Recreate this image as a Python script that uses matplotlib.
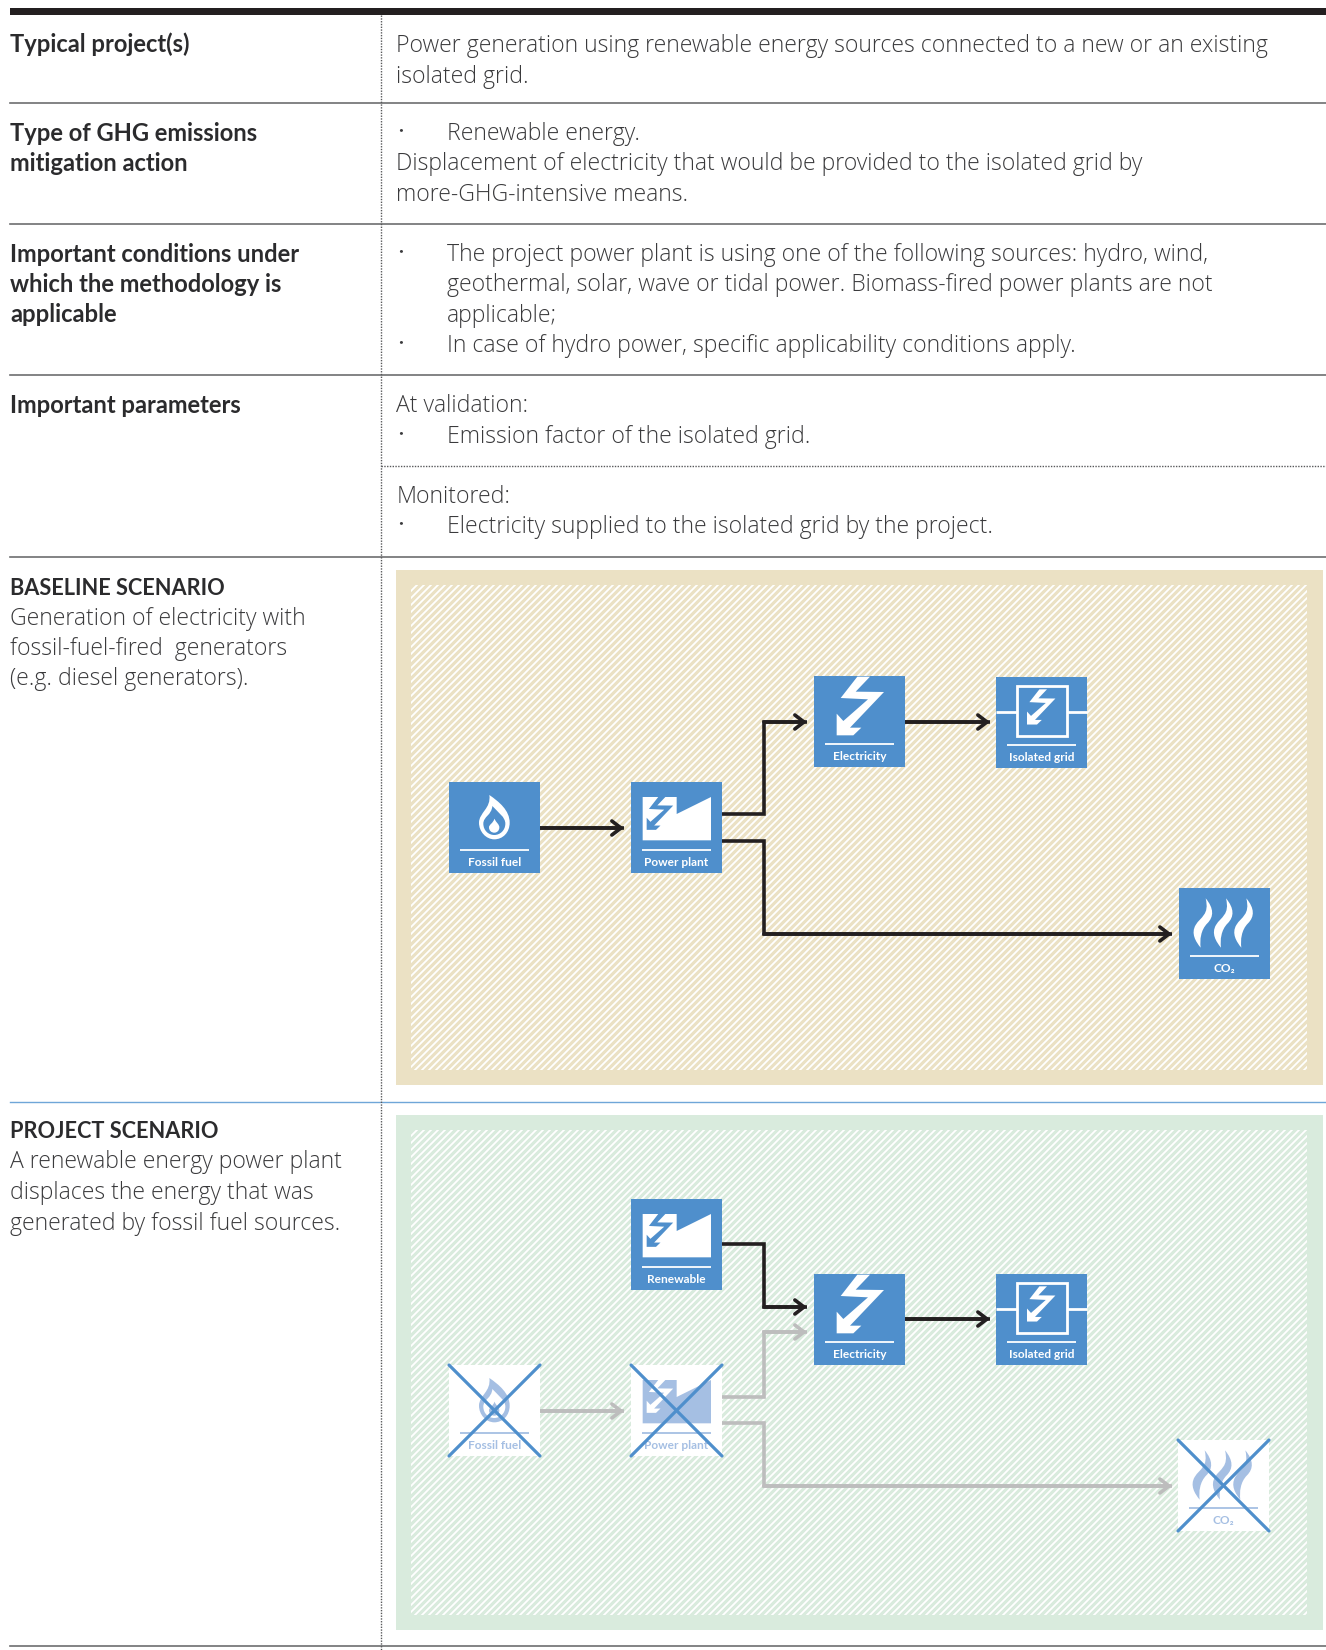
import numpy as np
import matplotlib
matplotlib.use('Agg')
import matplotlib.pyplot as plt
from matplotlib.collections import LineCollection
from matplotlib.patches import PathPatch, Polygon, Rectangle
from matplotlib.path import Path

plt.rcParams['font.family'] = ['Lato', 'DejaVu Sans']

# table text: (baseline y, text)
left_heads = [(52, "Typical project(s)"), (141, "Type of GHG emissions"), (171, "mitigation action"),
              (262, "Important conditions under"), (292, "which the methodology is"), (322, "applicable"),
              (413, "Important parameters")]
scenario_heads = [(595, "BASELINE SCENARIO"), (1138, "PROJECT SCENARIO")]
left_body = [(625, "Generation of electricity with"), (655, "fossil-fuel-fired  generators"),
             (685, "(e.g. diesel generators)."),
             (1168, "A renewable energy power plant"), (1199, "displaces the energy that was"),
             (1230, "generated by fossil fuel sources.")]
right_body = [(52, "Power generation using renewable energy sources connected to a new or an existing"),
              (83, "isolated grid."),
              (170, "Displacement of electricity that would be provided to the isolated grid by"),
              (201, "more-GHG-intensive means."),
              (412, "At validation:"), (503, "Monitored:")]
bullets = [(140, "Renewable energy."),
           (261, "The project power plant is using one of the following sources: hydro, wind,"),
           (291, "geothermal, solar, wave or tidal power. Biomass-fired power plants are not"),
           (322, "applicable;"),
           (352, "In case of hydro power, specific applicability conditions apply."),
           (443, "Emission factor of the isolated grid."),
           (533, "Electricity supplied to the isolated grid by the project.")]
bullet_rows = [140, 261, 352, 443, 533]

grey_rules = [103, 224, 375, 557, 1646]
blue_rules = [1102]

# boxes: kind, label, left, top
base_boxes = [('flame', 'Fossil fuel', 449, 782), ('plant', 'Power plant', 631, 782),
              ('bolt', 'Electricity', 814, 676), ('grid', 'Isolated grid', 996, 677),
              ('co2', 'CO₂', 1179, 888)]
proj_boxes = [('plant', 'Renewable', 631, 1199), ('bolt', 'Electricity', 814, 1274),
              ('grid', 'Isolated grid', 996, 1274)]
proj_crossed = [('flame', 'Fossil fuel', 449, 1365), ('plant', 'Power plant', 631, 1365),
                ('co2', 'CO₂', 1178, 1440)]

dark_arrows = [[(540, 828), (624, 828)],
               [(722, 814), (764, 814), (764, 722), (807, 722)],
               [(722, 841), (764, 841), (764, 934), (1172, 934)],
               [(905, 722), (990, 722)],
               [(722, 1244), (764, 1244), (764, 1307), (807, 1307)],
               [(905, 1319), (990, 1319)]]
grey_arrows = [[(540, 1411), (624, 1411)],
               [(722, 1397), (764, 1397), (764, 1332), (807, 1332)],
               [(722, 1423), (764, 1423), (764, 1486), (1172, 1486)]]

BLUE = '#4F8FCC'
FADED = '#A5BFE3'
INK = '#231F20'
SIZE = 91

# icon outlines, in 3x pixels from the box corner
BOLT = np.array([(130, 2), (168, 2), (125, 47), (210, 48), (108, 155), (142, 155), (118, 178),
                 (68, 178), (68, 113), (88, 135), (162, 70), (80, 66)], float)
BUILDING = np.array([(35, 45), (137, 45), (137, 96), (240, 45), (240, 175), (35, 175)], float)

fig = plt.figure(figsize=(13.26, 16.5), dpi=100)
ax = fig.add_axes([0, 0, 1, 1])
ax.set_xlim(0, 1326)
ax.set_ylim(1650, 0)
ax.axis('off')


def px(pts, x, y):
    return np.asarray(pts, float) / 3 + (x, y)


def curve(ax, x, y, start, segs, color, z):
    verts = [start]
    codes = [Path.MOVETO]
    for s in segs:
        verts += list(s)
        codes += [Path.CURVE4] * 3
    verts.append(start)
    codes.append(Path.CLOSEPOLY)
    ax.add_patch(PathPatch(Path(px(verts, x, y), codes), fc=color, ec='none', zorder=z))


def bolt(ax, x, y, color, scale, dx, dy, z):
    pts = (BOLT - (68, 2)) * scale + (dx, dy)
    ax.add_patch(Polygon(px(pts, x, y), closed=True, fc=color, ec='none', zorder=z))


def draw_box(kind, label, x, y, crossed=False):
    bg = 'white' if crossed else BLUE
    fg = FADED if crossed else 'white'
    ax.add_patch(Rectangle((x, y), SIZE, SIZE, fc=bg, ec='none', zorder=3))
    ax.plot([x + 11, x + 80], [y + 68, y + 68], color=fg, lw=1.3, solid_capstyle='butt', zorder=4)
    if kind == 'flame':
        curve(ax, x, y, (121, 39), [[(150, 59), (182, 85), (182, 122)], [(182, 152), (161, 172), (136, 172)],
                                    [(111, 172), (90, 149), (90, 122)], [(90, 92), (127, 79), (121, 39)]], fg, 4)
        curve(ax, x, y, (130, 72), [[(148, 92), (169, 105), (169, 125)], [(169, 145), (153, 159), (136, 159)],
                                    [(118, 159), (103, 145), (103, 125)], [(103, 103), (128, 100), (130, 72)]], bg, 5)
        curve(ax, x, y, (136, 110), [[(142, 122), (151, 127), (151, 136)], [(151, 146), (144, 152), (136, 152)],
                                     [(127, 152), (120, 146), (120, 136)], [(120, 127), (133, 124), (136, 110)]], fg, 6)
    elif kind == 'plant':
        ax.add_patch(Polygon(px(BUILDING, x, y), closed=True, fc=fg, ec='none', zorder=4))
        bolt(ax, x, y, bg, 0.56, 47, 45, 5)
    elif kind == 'bolt':
        bolt(ax, x, y, fg, 1.0, 68, 2, 4)
    elif kind == 'grid':
        ax.add_patch(Rectangle((x + 21, y + 9), 50, 50, fc='none', ec=fg, lw=2, zorder=4))
        ax.plot([x, x + 21], [y + 34.5, y + 34.5], color=fg, lw=2, solid_capstyle='butt', zorder=4)
        ax.plot([x + 71, x + SIZE], [y + 34.5, y + 34.5], color=fg, lw=2, solid_capstyle='butt', zorder=4)
        bolt(ax, x, y, fg, 0.6, 93, 37, 4)
    elif kind == 'co2':
        for off in (0, 61, 122):
            curve(ax, x + off / 3, y, (80, 31), [[(105, 61), (105, 86), (85, 106)], [(65, 126), (62, 156), (65, 179)],
                                                 [(50, 161), (35, 136), (50, 111)], [(65, 86), (92, 81), (80, 31)]], fg, 4)
    ax.text(x + SIZE / 2, y + 84, label, color=fg, fontsize=8.6, fontweight='bold',
            ha='center', va='baseline', zorder=4)
    if crossed:
        ax.plot([x, x + SIZE], [y, y + SIZE], color=BLUE, lw=2.3, solid_capstyle='round', zorder=7)
        ax.plot([x, x + SIZE], [y + SIZE, y], color=BLUE, lw=2.3, solid_capstyle='round', zorder=7)


def draw_arrow(route, color):
    xs, ys = zip(*route)
    ax.plot(xs, ys, color=color, lw=2.6, solid_joinstyle='miter', solid_capstyle='butt', zorder=2)
    ax.annotate('', xy=route[-1], xytext=route[-2], zorder=2,
                arrowprops=dict(arrowstyle='->,head_length=0.55,head_width=0.42', color=color, lw=2.6,
                                shrinkA=0, shrinkB=0, mutation_scale=12))


def panel(top, bottom, color):
    ax.add_patch(Rectangle((396, top), 927, bottom - top, fc=color, ec='none', zorder=0))
    clip = Rectangle((411, top + 15), 896, bottom - top - 30, transform=ax.transData)
    offs = np.arange(411 - (bottom - top), 1307 + 7, 7)
    segs = [[(o, bottom), (o + bottom - top, top)] for o in offs]
    lc = LineCollection(segs, colors='white', linewidths=1.3, zorder=1)
    ax.add_collection(lc)
    lc.set_clip_path(clip)


# rules
ax.add_patch(Rectangle((10, 8), 1316, 7, fc='#231F20', ec='none'))
for y in grey_rules:
    ax.plot([10, 1326], [y, y], color='#6D6E70', lw=1.2, zorder=1)
for y in blue_rules:
    ax.plot([10, 1326], [y, y], color='#6FA6D8', lw=1.0, zorder=1)
ax.plot([381, 381], [15, 1650], color='#58595B', lw=1.0, ls=(0, (1, 1)), zorder=2)
ax.plot([381, 1326], [466, 466], color='#58595B', lw=1.0, ls=(0, (1, 1)), zorder=2)

# text
BODY = dict(color='#3A3A3C', fontsize=16.6, family=['Open Sans', 'DejaVu Sans'], fontweight='light', va='baseline')
for y, s in left_heads:
    ax.text(10.5, y, s, color='#2B2B2D', fontsize=17.1, fontweight='bold', va='baseline')
for y, s in scenario_heads:
    ax.text(10.5, y, s, color='#2B2B2D', fontsize=15.7, fontweight='bold', va='baseline')
for y, s in left_body:
    ax.text(10.5, y, s, **BODY)
for y, s in right_body:
    ax.text(396.5, y, s, **BODY)
for y, s in bullets:
    ax.text(447, y, s, **BODY)
for y in bullet_rows:
    ax.text(398, y - 8, '•', color='#3C3C3E', fontsize=6, va='baseline')

panel(570, 1085, '#EBE1C4')
panel(1115, 1630, '#D9EBDD')

for route in dark_arrows:
    draw_arrow(route, INK)
for route in grey_arrows:
    draw_arrow(route, '#BDBDBD')
for b in base_boxes + proj_boxes:
    draw_box(*b)
for b in proj_crossed:
    draw_box(*b, crossed=True)

fig.savefig('out.png', dpi=100)
